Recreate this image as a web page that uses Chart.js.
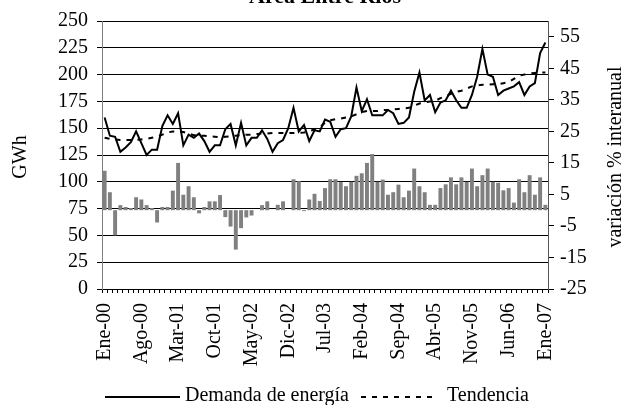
<!DOCTYPE html>
<html lang="es">
<head>
<meta charset="UTF-8">
<title>Área Entre Ríos</title>
<script src="https://cdn.jsdelivr.net/npm/chart.js"></script>
<style>
    html, body { margin: 0; padding: 0; background: #fff; }
</style>
</head>
<body>
<canvas id="chart" width="628" height="405"></canvas>
<script>
// categorias mensuales Ene-00 .. Ene-07
const monthNames = ['Ene', 'Feb', 'Mar', 'Abr', 'May', 'Jun', 'Jul', 'Ago', 'Sep', 'Oct', 'Nov', 'Dic'];
const categories = [];
for (let y = 0; y <= 7; y++) {
    for (let m = 0; m < 12; m++) {
        if (y === 7 && m > 0) break;
        categories.push(monthNames[m] + '-0' + y);
    }
}

// GWh
const demanda = [
    160, 143, 142, 128, 132, 137, 147, 136, 125, 130,
    130, 152, 162, 154, 164, 134, 144, 141, 145, 138,
    128, 134, 134, 149, 154, 134, 155, 134, 141, 141,
    148, 140, 128, 136, 139, 150, 169, 147, 153, 138,
    148, 147, 158, 156, 142, 149, 150, 161, 188, 166,
    177, 162, 162, 162, 167, 164, 154, 155, 160, 184,
    202, 176, 181, 165, 174, 176, 185, 176, 169, 169,
    181, 198, 224, 200, 198, 181, 185, 187, 189, 193,
    181, 189, 192, 220, 230
];

const tendencia = [
    141, 140, 139.5, 139, 139, 139, 139, 139.5, 140, 141,
    142, 144, 146, 147, 147, 146.5, 145, 143.5, 143, 143,
    142.5, 142, 141.5, 142, 142.5, 143, 143.5, 144, 144, 144.5,
    145, 145, 145.5, 145.5, 145.5, 145.5, 145.5, 145.5, 146, 147,
    149, 151, 155, 157.5, 158.5, 159, 160, 161, 163, 165,
    166, 166, 166, 167, 167, 167.5, 168, 168.5, 169, 171,
    173, 174, 175, 175.5, 178, 180, 182, 184, 185, 187,
    189, 190, 190.5, 190.5, 191, 191, 192, 193, 196, 199,
    200, 201, 201.5, 202, 202
];

// variacion % interanual (eje derecho)
const variacion = [
    12.5, 5.7, -8, 1.6, 1.0, 0.7, 4.1, 3.4, 1.6, 0.7,
    -3.9, 1.0, 1.0, 6.2, 15, 4.9, 7.6, 4.1, -1, 1.0,
    2.8, 2.8, 4.8, -2.2, -5.2, -12.5, -5.7, -2.3, -1.7, 0,
    1.6, 2.8, 0, 1.7, 2.8, 0, 9.8, 9.2, -0.3, 3.4,
    5.2, 2.9, 7, 9.8, 9.8, 8.9, 7.6, 9.0, 10.9, 11.7,
    15.0, 17.8, 9.0, 9.7, 4.9, 5.7, 8.1, 4.1, 6.2, 13.2,
    7.6, 5.7, 1.7, 1.7, 7, 8.2, 10.4, 8.2, 10.4, 9.0,
    13.2, 7.6, 11.1, 13.2, 9, 8.7, 6.3, 7, 2.4, 9.8,
    5.7, 11.1, 4.9, 10.4, 1.7
];

const leftTicks = [0, 25, 50, 75, 100, 125, 150, 175, 200, 225, 250];
const rightTicks = [-25, -15, -5, 5, 15, 25, 35, 45, 55];

const FONT = "'Liberation Serif', 'Times New Roman', serif";
Chart.defaults.font.family = FONT;
Chart.defaults.font.size = 20;
Chart.defaults.color = '#000';

// titulo, titulos de ejes y leyenda
const textPlugin = {
    id: 'textos',
    afterDraw(chart) {
        const ctx = chart.ctx;
        ctx.save();
        ctx.fillStyle = '#000';

        ctx.font = 'bold 22px ' + FONT;
        ctx.textAlign = 'center';
        ctx.textBaseline = 'alphabetic';
        ctx.fillText('Área Entre Ríos', 325, 3);

        ctx.font = '20px ' + FONT;
        ctx.textBaseline = 'middle';
        ctx.save();
        ctx.translate(21, 157);
        ctx.rotate(-Math.PI / 2);
        ctx.fillText('GWh', 0, 0);
        ctx.restore();

        ctx.save();
        ctx.translate(616, 157);
        ctx.rotate(-Math.PI / 2);
        ctx.fillText('variación % interanual', 0, 0);
        ctx.restore();

        // leyenda
        ctx.strokeStyle = '#000';
        ctx.lineWidth = 2;
        ctx.beginPath();
        ctx.moveTo(105, 397);
        ctx.lineTo(180, 397);
        ctx.stroke();
        ctx.setLineDash([5, 6]);
        ctx.beginPath();
        ctx.moveTo(361, 397);
        ctx.lineTo(437, 397);
        ctx.stroke();
        ctx.setLineDash([]);

        ctx.textAlign = 'left';
        ctx.textBaseline = 'alphabetic';
        ctx.fillText('Demanda de energía', 185, 401);
        ctx.fillText('Tendencia', 447, 401);
        ctx.restore();
    }
};

new Chart(document.getElementById('chart'), {
    type: 'bar',
    data: {
        labels: categories,
        datasets: [
            {
                type: 'line',
                label: 'Demanda de energía',
                data: demanda,
                yAxisID: 'y',
                borderColor: '#000',
                borderWidth: 2,
                pointRadius: 0,
                tension: 0,
                fill: false,
                order: 0
            },
            {
                type: 'line',
                label: 'Tendencia',
                data: tendencia,
                yAxisID: 'y',
                borderColor: '#000',
                borderWidth: 2,
                borderDash: [5, 6],
                pointRadius: 0,
                tension: 0,
                fill: false,
                order: 1
            },
            {
                label: 'variación % interanual',
                data: variacion,
                yAxisID: 'y2',
                backgroundColor: '#808080',
                barPercentage: 0.75,
                categoryPercentage: 1.0,
                order: 2
            }
        ]
    },
    options: {
        responsive: false,
        animation: false,
        layout: { padding: { top: 15, left: 0, right: 0, bottom: 0 } },
        plugins: {
            legend: { display: false },
            title: { display: false },
            tooltip: { enabled: false }
        },
        scales: {
            x: {
                offset: true,
                grid: {
                    offset: true,
                    drawOnChartArea: false,
                    color: '#000',
                    tickLength: 4
                },
                border: { color: '#000' },
                ticks: {
                    autoSkip: false,
                    maxRotation: 90,
                    minRotation: 90,
                    padding: 10,
                    callback: (v, i) => (i % 7 === 0 ? categories[i] : '')
                },
                afterFit: s => { s.height = 116; }
            },
            y: {
                position: 'left',
                min: 0,
                max: 250,
                afterBuildTicks: s => { s.ticks = leftTicks.map(v => ({ value: v })); },
                grid: { color: '#000', tickLength: 5 },
                border: { color: '#808080' },
                ticks: { padding: 9, autoSkip: false },
                afterFit: s => { s.width = 102; }
            },
            y2: {
                position: 'right',
                min: -25,
                max: 60,
                afterBuildTicks: s => { s.ticks = rightTicks.map(v => ({ value: v })); },
                grid: { drawOnChartArea: false, color: '#000', tickLength: 6 },
                border: { color: '#555' },
                ticks: { padding: 6, autoSkip: false },
                afterFit: s => { s.width = 80; }
            }
        }
    },
    plugins: [textPlugin]
});
</script>
</body>
</html>
